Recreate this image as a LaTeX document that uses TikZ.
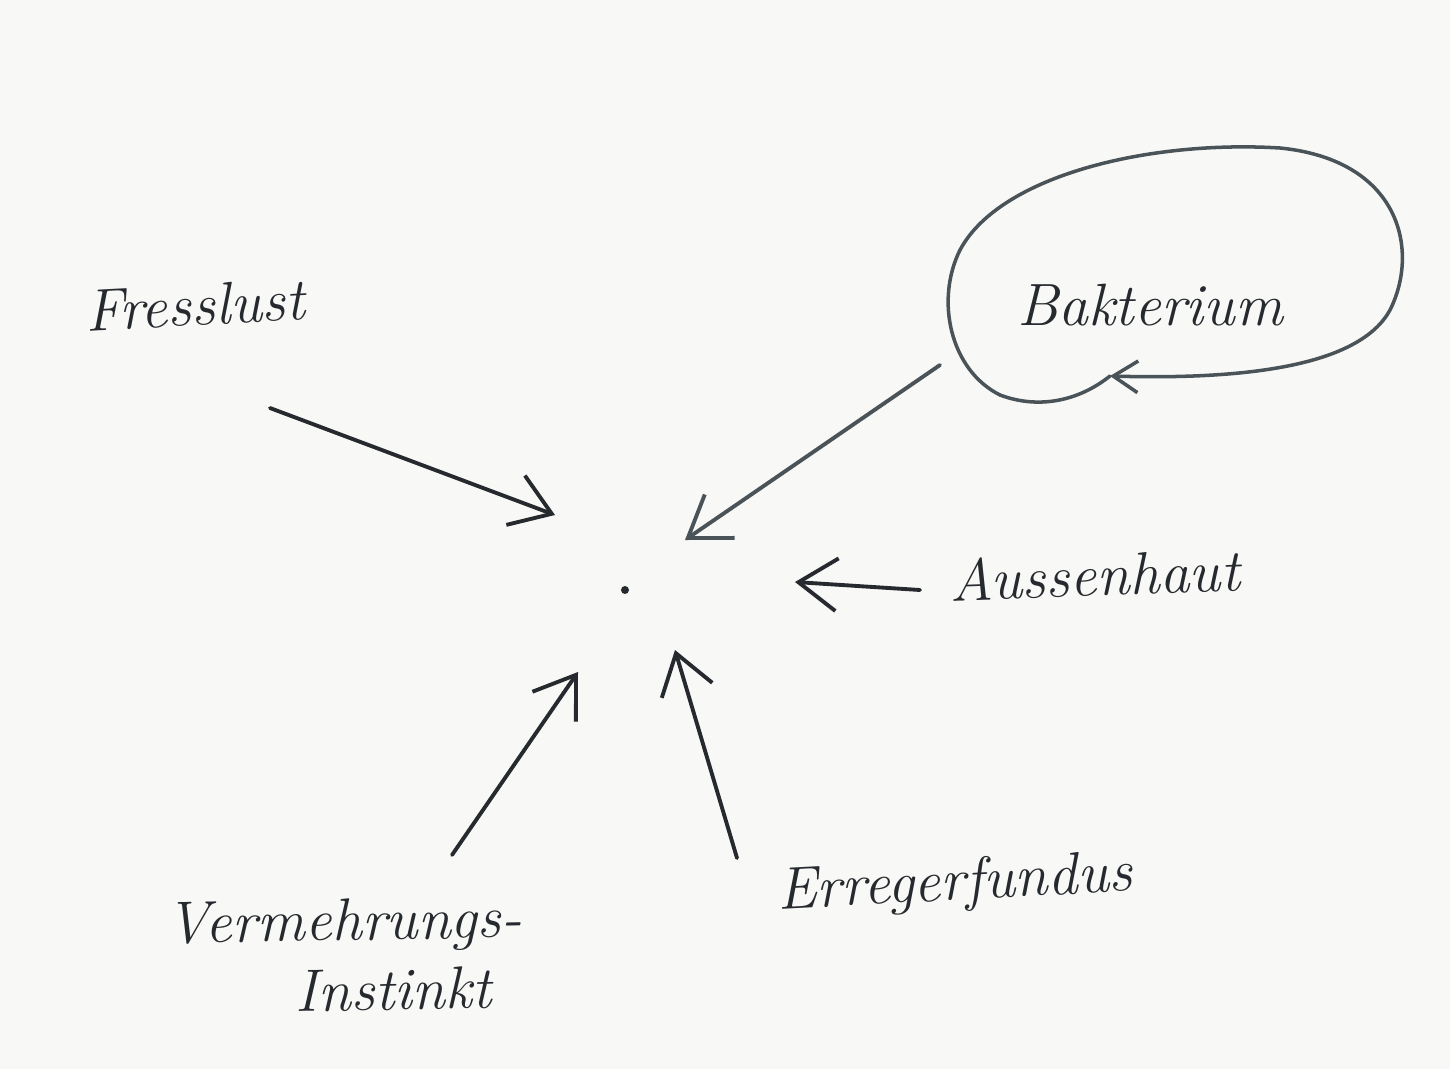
\documentclass[tikz,border=0pt]{standalone}
\usetikzlibrary{arrows.meta}
\definecolor{paper}{HTML}{F8F8F7}
\definecolor{ink}{HTML}{262A2E}
\definecolor{lightink}{HTML}{4A5358}
\tikzset{
  lbl/.style={text=ink, font=\fontsize{34}{40}\selectfont\itshape, inner sep=2pt},
  arr/.style={draw=ink, line width=2.2pt, line cap=round, -{Straight Barb[length=22pt,width=30pt,line width=2.2pt]}},
  loop/.style={draw=lightink, line width=2pt, line cap=round},
}
\begin{document}
\begin{tikzpicture}[x=0.02cm,y=-0.02cm]
\fill[paper] (0,0) rectangle (1450,1069);
\useasboundingbox (0,0) rectangle (1450,1069);

% centre
\fill[ink] (625,590) circle (4);
\coordinate (tF) at (555,515);
\coordinate (tB) at (685,540);
\coordinate (tA) at (795,582);
\coordinate (tE) at (675,650);
\coordinate (tV) at (578,672);

% labels
\node[lbl, rotate=3] (fress) at (195,305) {Fresslust};
\node[lbl] (bakt) at (1150,305) {Bakterium};
\node[lbl, rotate=2] (auss) at (1095,575) {Aussenhaut};
\node[lbl, rotate=3] (erreg) at (955,885) {Erregerfundus};
\node[lbl, align=center, rotate=1] (verm) at (345,955) {Vermehrungs-\\\hspace*{1.6em}Instinkt};

% start points of connectors
\coordinate (sF) at (270,408);
\coordinate (sB) at (940,365);
\coordinate (sA) at (920,590);
\coordinate (sE) at (737,858);
\coordinate (sV) at (452,855);

% Bakterium loop
\draw[loop, -{Straight Barb[length=14pt,width=18pt,line width=2pt]}]
  (1000,395) .. controls (950,370) and (935,300) .. (960,250)
  .. controls (1000,175) and (1150,140) .. (1280,148)
  .. controls (1400,160) and (1420,250) .. (1390,310)
  .. controls (1360,365) and (1250,380) .. (1110,376);
\draw[loop] (1000,395) .. controls (1040,410) and (1080,400) .. (1110,376);

% connectors
\draw[arr] (sF) -- (tF);
\draw[arr, draw=lightink] (sB) -- (tB);
\draw[arr] (sA) -- (tA);
\draw[arr] (sE) -- (tE);
\draw[arr] (sV) -- (tV);
\end{tikzpicture}
\end{document}
